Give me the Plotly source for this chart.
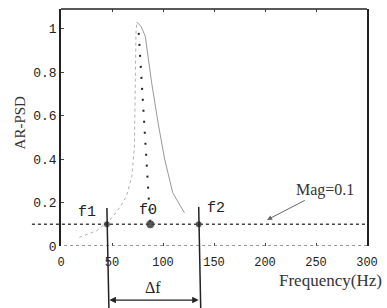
import plotly.graph_objects as go

# ---- data ----
x_ticks = [0, 50, 100, 150, 200, 250, 300]
x_tick_labels = ["0", "50", "100", "150", "200", "250", "300"]
y_ticks = [0, 0.2, 0.4, 0.6, 0.8, 1]
y_tick_labels = ["0", "0.2", "0.4", "0.6", "0.8", "1"]

# AR-PSD curve (left flank faint dotted, right flank thin solid)
freq_left = [18, 35, 50, 58, 64, 69.5, 72.0, 72.6, 73.5, 74.3]
psd_left = [0.04, 0.07, 0.13, 0.18, 0.227, 0.32, 0.46, 0.80, 0.98, 1.03]
freq_right = [74.3, 78.5, 82.6, 88.9, 95.2, 101.6, 109.5, 121]
psd_right = [1.03, 1.01, 0.965, 0.75, 0.566, 0.40, 0.245, 0.153]

# f0 marker line (dotted, from peak down to the Mag level)
f0_line_freq = [76.2, 87.6]
f0_line_psd = [0.98, 0.1]

mag_level = 0.1
f1, f0, f2 = 45, 87.6, 135
marker_freqs = [f1, f0, f2]
marker_sizes = [7, 9, 7]
mag_arrow_freq = 202

x_range = [0, 300]
y_range = [0, 1.09]

MONO = "Liberation Mono"
SERIF = "Liberation Serif"

fig = go.Figure()

fig.add_trace(go.Scatter(x=freq_left, y=psd_left, mode="lines",
                         line=dict(color="#b0b0b0", width=1, dash="dot"),
                         showlegend=False, hoverinfo="skip"))
fig.add_trace(go.Scatter(x=freq_right, y=psd_right, mode="lines",
                         line=dict(color="#999999", width=1),
                         showlegend=False, hoverinfo="skip"))
fig.add_trace(go.Scatter(x=f0_line_freq, y=f0_line_psd, mode="lines",
                         line=dict(color="#222", width=2, dash="2px,9px"),
                         showlegend=False, hoverinfo="skip"))
fig.add_trace(go.Scatter(x=marker_freqs, y=[mag_level] * 3, mode="markers",
                         marker=dict(color="#111", size=marker_sizes),
                         cliponaxis=False, showlegend=False, hoverinfo="skip"))

# y value -> paper fraction
def ypaper(v):
    return (v - y_range[0]) / (y_range[1] - y_range[0])

shapes = [
    # top frame line
    dict(type="line", xref="paper", yref="paper", x0=0, x1=1, y0=1, y1=1,
         line=dict(color="#222", width=1.5)),
    # dotted baseline
    dict(type="line", xref="paper", yref="y", x0=0.01, x1=1, y0=0, y1=0,
         line=dict(color="#777", width=1.5, dash="dot")),
    # Mag = 0.1 dashed line
    dict(type="line", xref="paper", yref="y", x0=-0.095, x1=1, y0=mag_level, y1=mag_level,
         line=dict(color="#444", width=1.3, dash="3px,3px")),
    # f1 and f2 vertical lines
    dict(type="line", xref="x", yref="paper", x0=f1, x1=f1 + 2, y0=ypaper(0.175), y1=-0.27,
         line=dict(color="#222", width=1.5)),
    dict(type="line", xref="x", yref="paper", x0=f2, x1=f2 + 2, y0=ypaper(0.18), y1=-0.27,
         line=dict(color="#222", width=1.5)),
]

annotations = [
    dict(text="AR-PSD", xref="paper", yref="paper", x=-0.135, y=0.52, textangle=-90,
         xanchor="center", yanchor="middle",
         showarrow=False, font=dict(family=SERIF, size=15, color="#333")),
    dict(text="Frequency(Hz)", xref="paper", yref="paper", x=0.706, y=-0.147,
         xanchor="left", yanchor="middle", showarrow=False,
         font=dict(family=SERIF, size=17, color="#333")),
    dict(text="f1", xref="x", yref="y", x=f1, y=0.16, xanchor="right", yanchor="middle",
         xshift=-9, yshift=-1,
         showarrow=False, font=dict(family=MONO, size=15, color="#222")),
    dict(text="f0", xref="x", yref="y", x=f0, y=0.17, xanchor="center", yanchor="middle",
         xshift=-2, yshift=-1,
         showarrow=False, font=dict(family=MONO, size=15, color="#222")),
    dict(text="f2", xref="x", yref="y", x=f2, y=0.175, xanchor="left", yanchor="middle",
         xshift=6, yshift=-1,
         showarrow=False, font=dict(family=MONO, size=15, color="#222")),
    dict(text="Mag=0.1", xref="x", yref="y", x=mag_arrow_freq, y=mag_level + 0.02,
         ax=58, ay=-30, showarrow=True, arrowhead=2, arrowsize=1, arrowwidth=1,
         arrowcolor="#666", font=dict(family=SERIF, size=16, color="#333")),
    dict(text="", xref="x", yref="paper", x=f2, y=-0.228, axref="x", ax=f1 + 1,
         ayref="pixel", ay=0, showarrow=True, arrowhead=2, arrowside="end+start",
         arrowsize=1, arrowwidth=1.3, arrowcolor="#222"),
    dict(text="\u0394f", xref="x", yref="paper", x=(f1 + f2) / 2, y=-0.177,
         xanchor="center", yanchor="middle",
         showarrow=False, font=dict(family=SERIF, size=16, color="#222")),
]

fig.update_layout(
    width=387, height=308,
    margin=dict(l=61, r=11, t=9, b=62),
    paper_bgcolor="white", plot_bgcolor="white",
    shapes=shapes, annotations=annotations,
    xaxis=dict(range=x_range, tickvals=x_ticks, ticktext=x_tick_labels,
               showline=False, showgrid=False, zeroline=False,
               ticks="inside", ticklen=3, tickcolor="#444", mirror="ticks",
               ticklabelstandoff=7,
               tickfont=dict(family=MONO, size=12, color="#222")),
    yaxis=dict(range=y_range, tickvals=y_ticks, ticktext=y_tick_labels,
               showline=True, linecolor="#222", linewidth=1.5, mirror=True,
               showgrid=False, zeroline=False,
               ticks="inside", ticklen=3, tickcolor="#444",
               tickfont=dict(family=MONO, size=13, color="#222")),
)

fig.write_html("out.html", config={"displayModeBar": False},
               post_script="document.body.style.margin='0';")
